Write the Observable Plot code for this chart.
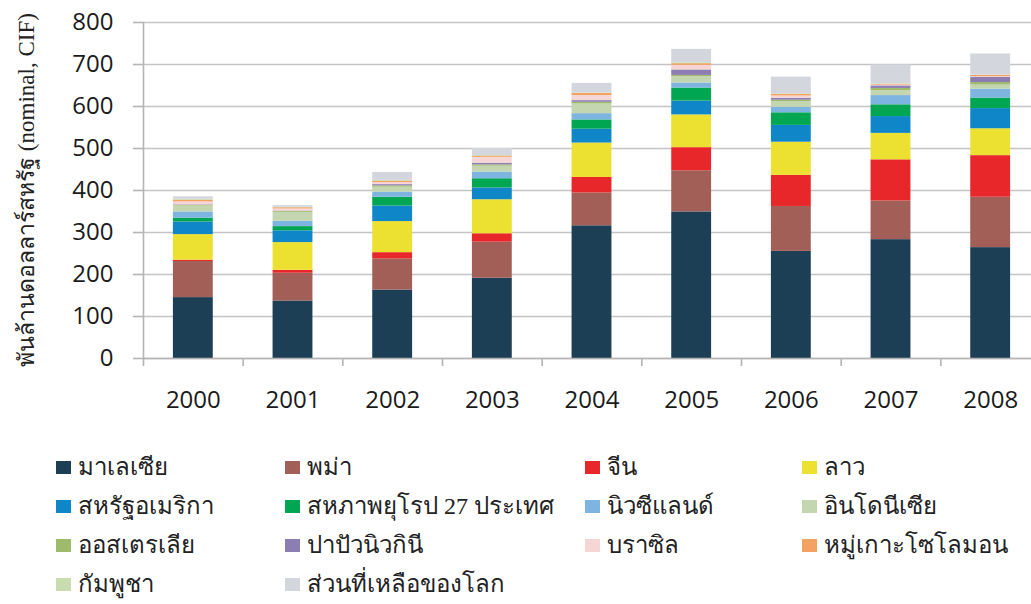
<!DOCTYPE html>
<html>
<head>
<meta charset="utf-8">
<script src="https://cdn.jsdelivr.net/npm/d3@7"></script>
<script src="https://cdn.jsdelivr.net/npm/@observablehq/plot@0.6"></script>
<style>
  html, body { margin: 0; padding: 0; background: #fff; }
  #wrap { position: relative; width: 1031px; height: 604px; overflow: hidden; }
  #chart { position: absolute; left: 0; top: 0; }
  .leg { position: absolute; font-family: "Liberation Serif", "DejaVu Serif", serif; font-size: 24px; color: #222; white-space: nowrap; line-height: 1; }
  .sw { position: absolute; width: 15px; height: 13px; }
  .lt { position: absolute; transform: translateY(-50%); }
</style>
</head>
<body>
<div id="wrap"><div id="chart"></div><div id="legend"></div></div>
<script>
const years = ["2000","2001","2002","2003","2004","2005","2006","2007","2008"];
const countries = ["มาเลเซีย","พม่า","จีน","ลาว","สหรัฐอเมริกา","สหภาพยุโรป 27 ประเทศ","นิวซีแลนด์","อินโดนีเซีย","ออสเตรเลีย","ปาปัวนิวกินี","บราซิล","หมู่เกาะโซโลมอน","กัมพูชา","ส่วนที่เหลือของโลก"];
const colors = ["#1c3f56","#a25f58","#e8272b","#ece131","#0e86c8","#00a651","#7db5e0","#c4d6b0","#9dbb6b","#8c7db2","#f6d5d5","#f2a262","#c8dcb0","#d3d6dc"];
const yTicks = [0,100,200,300,400,500,600,700,800];

const malaysia  = [145,137,163,191,316,349,255,283,264];
const myanmar   = [86,66,74,86,78,98,107,92,120];
const china     = [3,7,15,20,37,55,74,98,99];
const laos      = [61,66,74,81,82,78,79,63,64];
const usa       = [30,28,37,28,33,33,40,40,48];
const eu27      = [9,10,21,22,22,31,30,28,25];
const newZealand= [15,13,12,16,15,12,13,22,21];
const indonesia = [14,21,12,14,23,15,14,12,10];
const australia = [2,2,3,3,4,3,3,5,6];
const png       = [1,1,3,4,4,13,4,6,12];
const brazil    = [7,5,5,14,12,11,6,2,2];
const solomon   = [4,3,3,3,5,4,4,2,3];
const cambodia  = [2,1,2,1,1,2,1,1,1];
const restWorld = [6,4,19,17,23,32,40,45,50];

const series = [malaysia,myanmar,china,laos,usa,eu27,newZealand,indonesia,australia,png,brazil,solomon,cambodia,restWorld];
const rows = [];
years.forEach((yr, i) => countries.forEach((c, j) => rows.push({year: yr, country: c, value: series[j][i]})));

const W = 1031, H = 420, ML = 143, MT = 22, MB = 62;
const xRange = [143, 1040];
const step = (xRange[1] - xRange[0]) / years.length;
const axisColor = "#b4b4b4";

const chart = Plot.plot({
  width: W, height: H,
  marginLeft: ML, marginTop: MT, marginBottom: MB, marginRight: 0,
  style: {fontFamily: "'Open Sans', sans-serif", fontSize: "24px", color: "#1a1a1a", background: "transparent", overflow: "visible"},
  x: {domain: years, range: xRange, paddingInner: 0.6, paddingOuter: 0.3, round: false, label: null},
  y: {domain: [0, 800], label: null},
  color: {domain: countries, range: colors},
  marks: [
    Plot.gridY(yTicks, {stroke: "#c4c4c4", strokeOpacity: 1, strokeWidth: 1.6}),
    Plot.barY(rows, {x: "year", y: "value", fill: "country", order: null}),
    Plot.ruleY([0], {stroke: axisColor, strokeWidth: 1.6}),
    Plot.ruleX(years, {x: d => d, dx: -step / 2, insetTop: H - MT - MB, insetBottom: -8, stroke: axisColor, strokeWidth: 1.6}),
    Plot.frame({anchor: "left", stroke: axisColor, strokeWidth: 1.6}),
    Plot.axisY(yTicks, {tickSize: 10, tickPadding: 20, stroke: axisColor, strokeWidth: 1.6, label: null, fontSize: 24}),
    Plot.axisX({tickSize: 0, tickPadding: 32, label: null, fontSize: 24})
  ]
});
document.getElementById("chart").appendChild(chart);

// y-axis title
const svg = d3.select(chart);
svg.append("text")
  .attr("transform", `translate(26, ${(MT + (H - MB)) / 2}) rotate(-90)`)
  .attr("text-anchor", "middle")
  .attr("dominant-baseline", "central")
  .attr("font-family", "'Liberation Serif', 'DejaVu Serif', serif")
  .attr("font-size", 23)
  .attr("fill", "#222")
  .text("พันล้านดอลลาร์สหรัฐ (nominal, CIF)");

// legend
const legCols = [56, 285, 585, 802];
const legRows = [467, 506, 545, 584];
const legend = document.getElementById("legend");
countries.forEach((c, i) => {
  const col = i % 4, row = Math.floor(i / 4);
  const item = document.createElement("div");
  item.className = "leg";
  item.style.left = legCols[col] + "px";
  item.style.top = legRows[row] + "px";
  const sw = document.createElement("span");
  sw.className = "sw";
  sw.style.background = colors[i];
  sw.style.left = "0px";
  sw.style.top = "-6px";
  const t = document.createElement("span");
  t.className = "lt";
  t.style.left = "22px";
  t.style.top = "0px";
  t.textContent = c;
  item.appendChild(sw); item.appendChild(t);
  legend.appendChild(item);
});
</script>
</body>
</html>
